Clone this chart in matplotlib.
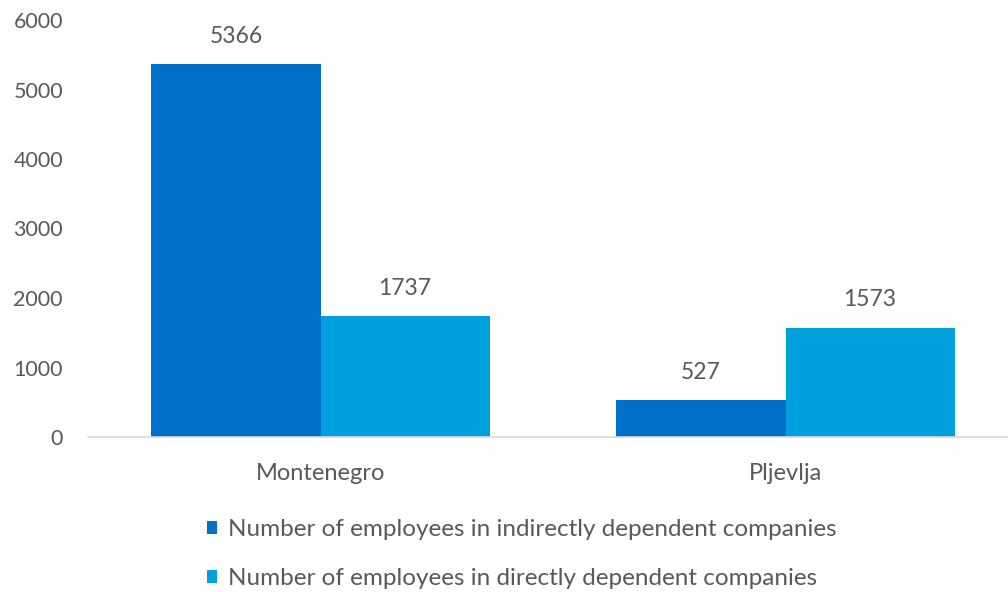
import numpy as np
from matplotlib import pyplot as plt

regions = ['Montenegro', 'Pljevlja']
indirect = [5366, 527]
direct = [1737, 1573]
labels = ['Number of employees in indirectly dependent companies',
          'Number of employees in directly dependent companies']
colors = ['#0070C8', '#00A0DF']

plt.rcParams['font.family'] = ['Lato', 'DejaVu Sans']
text_color = '#595959'

fig = plt.figure(figsize=(10.08, 5.92), dpi=100)
ax = fig.add_axes([88 / 1008, 155 / 592, 930 / 1008, 417 / 592])

x = np.arange(len(regions))
w = 0.3635
bars1 = ax.bar(x - w / 2, indirect, w, color=colors[0], label=labels[0])
bars2 = ax.bar(x + w / 2, direct, w, color=colors[1], label=labels[1])

for bars in (bars1, bars2):
    for b in bars:
        ax.annotate(f'{int(b.get_height())}', (b.get_x() + b.get_width() / 2, b.get_height()),
                    xytext=(0, 20), textcoords='offset points', ha='center', va='center',
                    fontsize=16.5, color=text_color)

ax.set_xlim(-0.5, 1.5)
ax.set_ylim(0, 6000)
ax.set_yticks(range(0, 6001, 1000))
ax.set_xticks(x)
ax.set_xticklabels(regions)
ax.tick_params(axis='both', length=0, labelcolor=text_color)
ax.tick_params(axis='y', pad=18, labelsize=15.5)
ax.tick_params(axis='x', pad=19, labelsize=17)
for s in ['top', 'right', 'left']:
    ax.spines[s].set_visible(False)
ax.spines['bottom'].set_color('#D9D9D9')
ax.spines['bottom'].set_linewidth(1.2)

fig.legend(handles=[bars1, bars2], labels=labels, loc='upper left',
           bbox_to_anchor=(207 / 1008, 1 - 519 / 592), frameon=False,
           borderaxespad=0, borderpad=0,
           fontsize=17.5, labelcolor=text_color, handlelength=0.42, handleheight=0.42,
           handletextpad=0.45, labelspacing=1.15)

fig.savefig('out.png', dpi=100)
